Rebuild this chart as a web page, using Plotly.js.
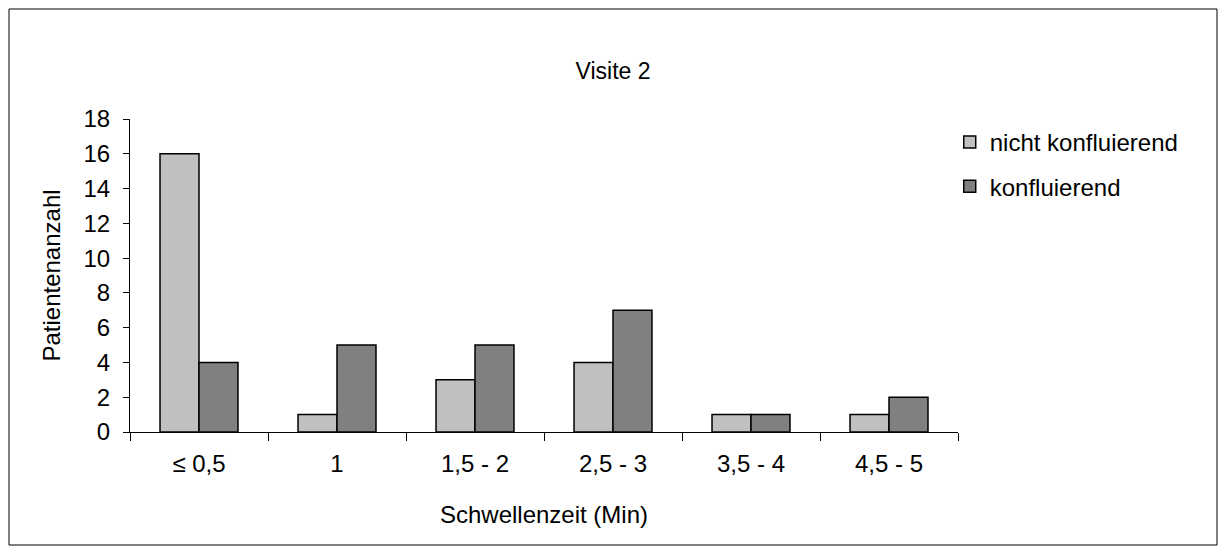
<!DOCTYPE html>
<html>
<head>
<meta charset="utf-8">
<script src="https://cdn.plot.ly/plotly-3.0.1.min.js"></script>
<style>html,body{margin:0;padding:0;background:#fff;}#chart{width:1226px;height:555px;}</style>
</head>
<body>
<div id="chart"></div>
<script>
const categories = ["≤ 0,5", "1", "1,5 - 2", "2,5 - 3", "3,5 - 4", "4,5 - 5"];
const nichtKonfluierend = [16, 1, 3, 4, 1, 1];
const konfluierend = [4, 5, 5, 7, 1, 2];
const seriesNames = ["nicht konfluierend", "konfluierend"];
const yTicks = [0, 2, 4, 6, 8, 10, 12, 14, 16, 18];

const FONT = "Liberation Sans, Arial, sans-serif";
const FS = 24;

const traces = [
  {type: "bar", x: categories, y: nichtKonfluierend, name: seriesNames[0], legendgroup: "a",
   marker: {color: "#C0C0C0", line: {color: "#000", width: 1.5}}},
  {type: "bar", x: categories, y: konfluierend, name: seriesNames[1], legendgroup: "b",
   marker: {color: "#808080", line: {color: "#000", width: 1.5}}}
];

const layout = {
  width: 1226, height: 555,
  margin: {l: 130, r: 268, t: 119, b: 123, pad: 0},
  paper_bgcolor: "#fff", plot_bgcolor: "#fff",
  font: {family: FONT, size: FS, color: "#000"},
  title: {text: "Visite 2", x: 0.5, xref: "container", y: 1 - 71/555, yref: "container", yanchor: "middle",
          font: {family: FONT, size: 23, color: "#000"}},
  barmode: "group", bargap: 0.435, bargroupgap: 0,
  showlegend: true,
  legend: {x: 0.99, y: 0.997, xanchor: "left", yanchor: "top", traceorder: "grouped", tracegroupgap: 10,
           font: {family: FONT, size: FS, color: "#000"}, bgcolor: "rgba(0,0,0,0)", itemwidth: 30},
  xaxis: {
    type: "category", tickson: "boundaries", ticks: "outside", ticklen: 8, tickcolor: "#000", tickwidth: 1,
    showline: true, linecolor: "#000", linewidth: 1, showgrid: false, zeroline: false,
    tickfont: {family: FONT, size: FS, color: "#000"}, automargin: false, ticklabelstandoff: 10,
    title: {text: "Schwellenzeit (Min)", font: {family: FONT, size: FS, color: "#000"}, standoff: 30}
  },
  yaxis: {
    range: [0, 18], tickvals: yTicks, ticks: "outside", ticklen: 6, tickcolor: "#000", tickwidth: 1,
    showline: true, linecolor: "#000", linewidth: 1, showgrid: false, zeroline: false,
    tickfont: {family: FONT, size: FS, color: "#000"}, automargin: false, ticklabelstandoff: 8,
    title: {text: "Patientenanzahl", font: {family: FONT, size: FS, color: "#000"}, standoff: 16}
  },
  shapes: [{type: "rect", xref: "paper", yref: "paper",
            x0: (9-130)/828, x1: (1217-130)/828, y0: (432-545)/313, y1: (432-9)/313,
            line: {color: "#000", width: 1}, fillcolor: "rgba(0,0,0,0)", layer: "below"}]
};

Plotly.newPlot("chart", traces, layout, {displayModeBar: false, staticPlot: true});
</script>
</body>
</html>
